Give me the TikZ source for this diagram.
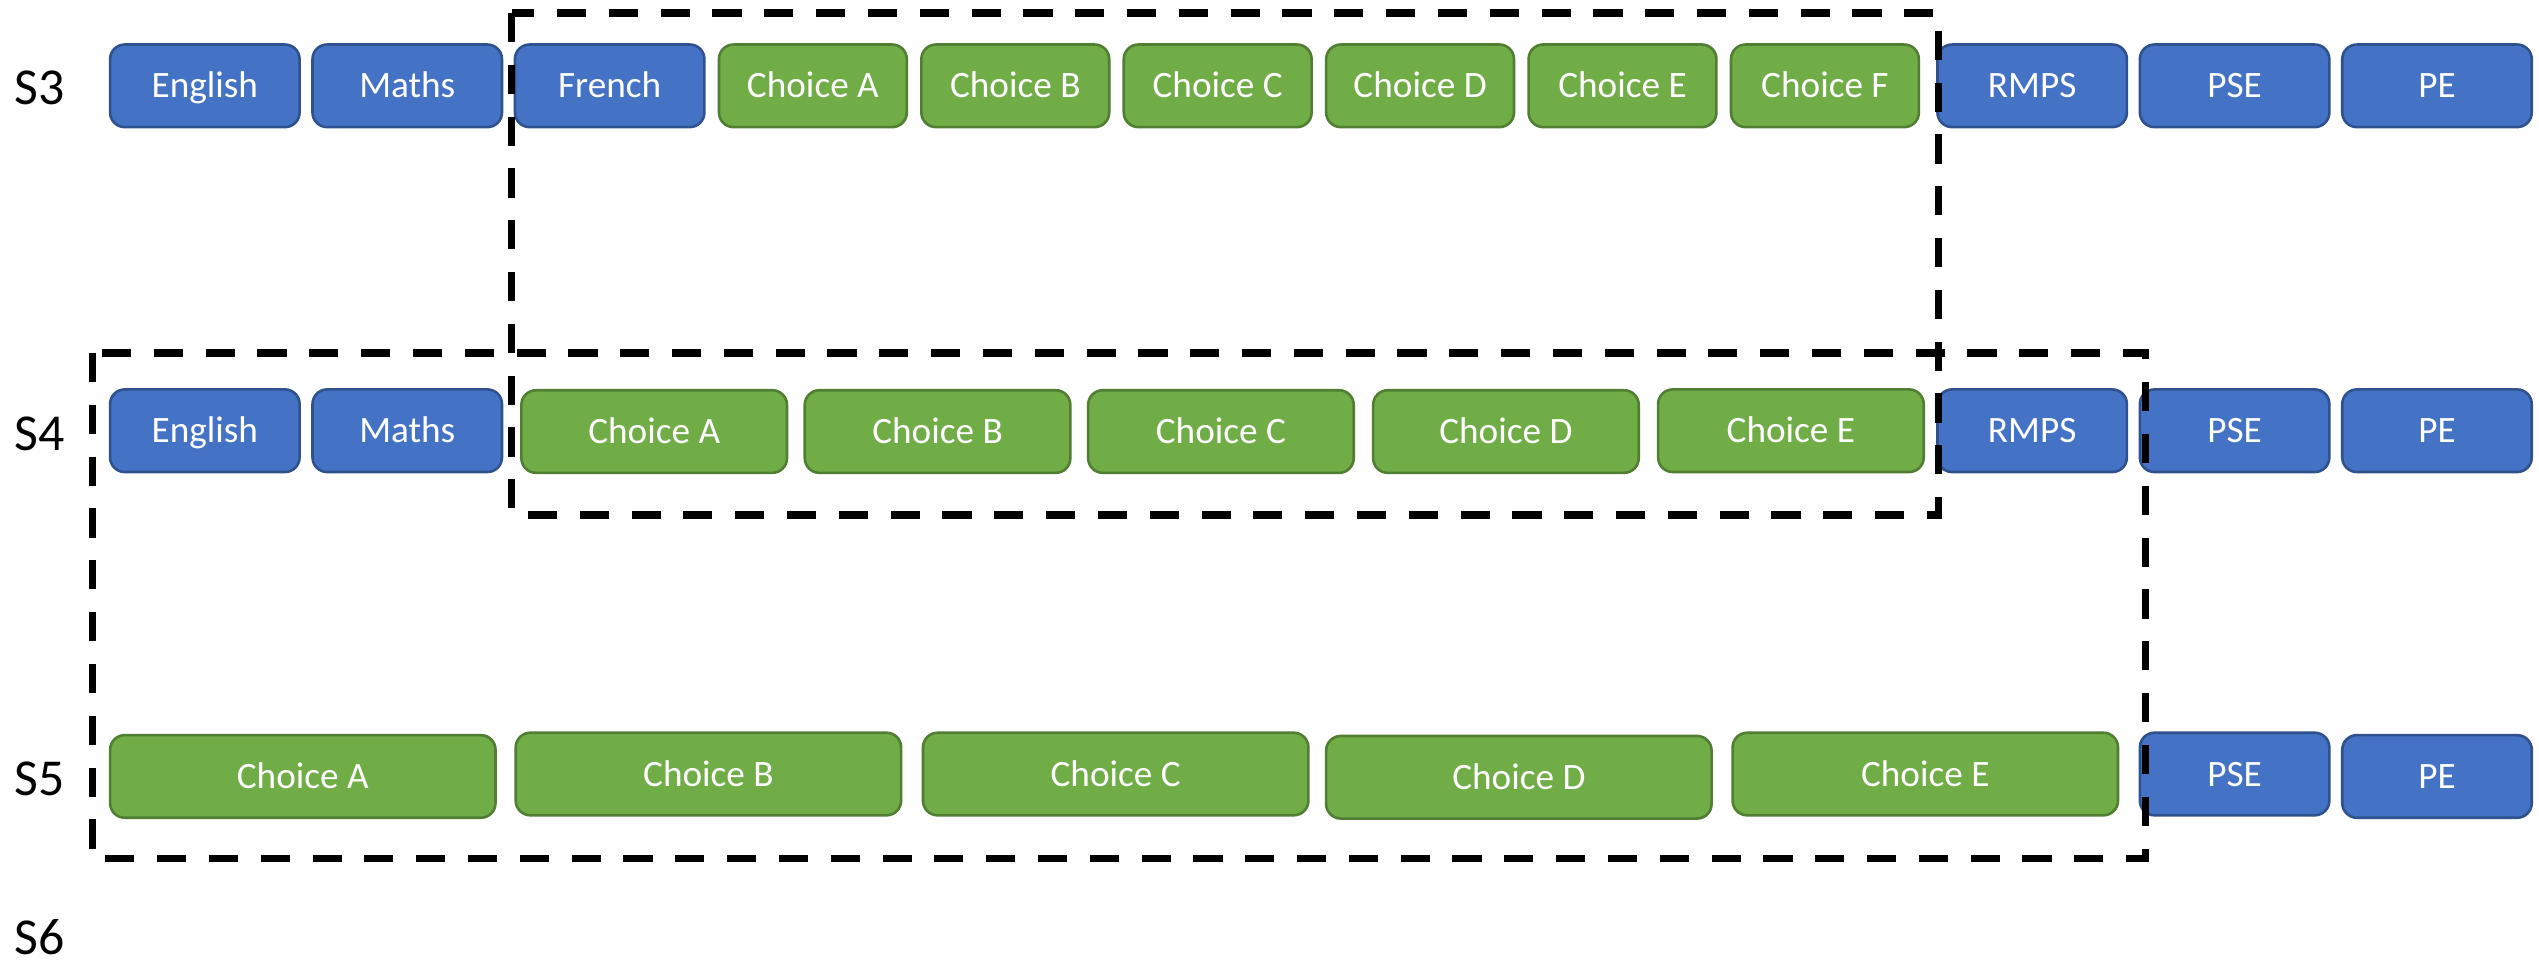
\documentclass[tikz,border=0pt]{standalone}
\usepackage{fontspec}
\setmainfont{Carlito}
\newfontfamily\carlito{Carlito}
\definecolor{blueA}{HTML}{4472C4}
\definecolor{blueB}{HTML}{2F528F}
\definecolor{greenA}{HTML}{70AD47}
\definecolor{greenB}{HTML}{507E32}
\tikzset{
  subj/.style={rounded corners=9pt, line width=1.6pt, text=white, inner sep=0pt,
    font=\carlito\fontsize{23}{27}\selectfont, minimum height=51pt,
    text height=14.8pt, text depth=0pt},
  bluebox/.style={subj, fill=blueA, draw=blueB},
  greenbox/.style={subj, fill=greenA, draw=greenB},
  rowlabel/.style={anchor=west, inner sep=0pt, font=\carlito\fontsize{32}{36}\selectfont,
    text height=20.6pt, text depth=0pt},
  dashbox/.style={draw=black, line width=4.5pt, dash pattern=on 18pt off 14pt},
}
\begin{document}
\begin{tikzpicture}[x=1pt,y=-1pt]
\useasboundingbox (0,0) rectangle (1568,597.2);
% labels
\node[rowlabel] (l3) at (9,54) {S3};
\node[rowlabel] (l4) at (9,268) {S4};
\node[rowlabel] (l5) at (9,481) {S5};
\node[rowlabel] (l6) at (9,579) {S6};
% S3 row
\node[bluebox, minimum width=117pt] (a1) at (126.5,53) {English};
\node[bluebox, minimum width=117pt] (a2) at (251.5,53) {Maths};
\node[bluebox, minimum width=117pt] (a3) at (376.5,53) {French};
\node[greenbox, minimum width=116pt] (a4) at (502,53) {Choice A};
\node[greenbox, minimum width=116pt] (a5) at (627,53) {Choice B};
\node[greenbox, minimum width=116pt] (a6) at (752,53) {Choice C};
\node[greenbox, minimum width=116pt] (a7) at (877,53) {Choice D};
\node[greenbox, minimum width=116pt] (a8) at (1002,53) {Choice E};
\node[greenbox, minimum width=116pt] (a9) at (1127,53) {Choice F};
\node[bluebox, minimum width=117pt] (a10) at (1255,53) {RMPS};
\node[bluebox, minimum width=117pt] (a11) at (1380,53) {PSE};
\node[bluebox, minimum width=117pt] (a12) at (1505,53) {PE};
% S4 row
\node[bluebox, minimum width=117pt] (b1) at (126.5,266) {English};
\node[bluebox, minimum width=117pt] (b2) at (251.5,266) {Maths};
\node[greenbox, minimum width=164pt] (b3) at (404,266.5) {Choice A};
\node[greenbox, minimum width=164pt] (b4) at (579,266.5) {Choice B};
\node[greenbox, minimum width=164pt] (b5) at (754,266.5) {Choice C};
\node[greenbox, minimum width=164pt] (b6) at (930,266.5) {Choice D};
\node[greenbox, minimum width=164pt] (b7) at (1106,266) {Choice E};
\node[bluebox, minimum width=117pt] (b8) at (1255,266) {RMPS};
\node[bluebox, minimum width=117pt] (b9) at (1380,266) {PSE};
\node[bluebox, minimum width=117pt] (b10) at (1505,266) {PE};
% S5 row
\node[greenbox, minimum width=238pt] (c1) at (187,479.5) {Choice A};
\node[greenbox, minimum width=238pt] (c2) at (437.5,478) {Choice B};
\node[greenbox, minimum width=238pt] (c3) at (689,478) {Choice C};
\node[greenbox, minimum width=238pt] (c4) at (938,480) {Choice D};
\node[greenbox, minimum width=238pt] (c5) at (1189,478) {Choice E};
\node[bluebox, minimum width=117pt] (c6) at (1380,478) {PSE};
\node[bluebox, minimum width=117pt] (c7) at (1505,479.5) {PE};
% dashed groupings
\draw[dashbox] (316,8) rectangle (1197,318);
\draw[dashbox] (57,218) rectangle (1325,530);
\end{tikzpicture}
\end{document}
